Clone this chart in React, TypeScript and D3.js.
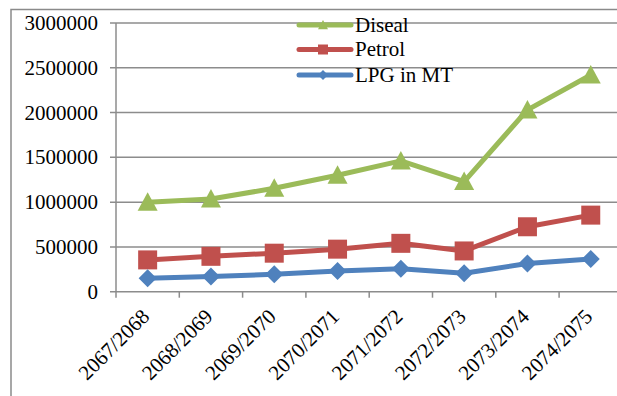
import React from "react";
import * as d3 from "d3";

const categories = [
  "2067/2068",
  "2068/2069",
  "2069/2070",
  "2070/2071",
  "2071/2072",
  "2072/2073",
  "2073/2074",
  "2074/2075",
];
const diseal = [1000000, 1035000, 1155000, 1300000, 1460000, 1230000, 2030000, 2420000];
const petrol = [355000, 395000, 430000, 475000, 540000, 455000, 725000, 855000];
const lpg = [150000, 170000, 195000, 230000, 255000, 205000, 315000, 365000];
const yTicks = [0, 500000, 1000000, 1500000, 2000000, 2500000, 3000000];

const W = 617;
const H = 396;
const plotLeft = 116;
const plotTop = 23;
const plotBottom = 291.7;
const bandWidth = 63.3;
const FONT = '"Liberation Serif", "Times New Roman", "DejaVu Serif", serif';

type Marker = "triangle" | "square" | "diamond";
type Series = { name: string; values: number[]; color: string; marker: Marker };

const series: Series[] = [
  { name: "Diseal", values: diseal, color: "#9BBB59", marker: "triangle" },
  { name: "Petrol", values: petrol, color: "#C0504D", marker: "square" },
  { name: "LPG in MT", values: lpg, color: "#4F81BD", marker: "diamond" },
];

// r = half extent of the marker box
function markerPath(kind: Marker, r: number): string {
  const p = d3.path();
  if (kind === "triangle") {
    p.moveTo(0, -r);
    p.lineTo(r, r * 0.85);
    p.lineTo(-r, r * 0.85);
  } else if (kind === "square") {
    p.rect(-r, -r, 2 * r, 2 * r);
  } else {
    p.moveTo(0, -r);
    p.lineTo(r, 0);
    p.lineTo(0, r);
    p.lineTo(-r, 0);
  }
  p.closePath();
  return p.toString();
}

const textStyle: React.CSSProperties = { fontFamily: FONT };

export default function App() {
  const x = d3
    .scaleBand<string>()
    .domain(categories)
    .range([plotLeft, plotLeft + bandWidth * categories.length]);
  const y = d3.scaleLinear().domain([0, 3000000]).range([plotBottom, plotTop]);
  const cx = (c: string) => (x(c) ?? 0) + x.bandwidth() / 2;

  const line = d3
    .line<[string, number]>()
    .x((d) => cx(d[0]))
    .y((d) => y(d[1]));

  const radii: Record<Marker, number> = { triangle: 10, square: 9.5, diamond: 9 };
  const legendY = [25, 49.5, 75];

  return (
    <div style={{ position: "absolute", left: 0, top: 0 }}>
      <svg width={W} height={H} style={{ display: "block" }}>
        <rect x={0} y={0} width={W} height={H} fill="#fff" />
        {/* outer chart frame */}
        <rect x={11} y={9.5} width={W + 20} height={H + 20} fill="none" stroke="#8a8a8a" strokeWidth={1.5} />

        {/* gridlines and y axis labels */}
        {yTicks.map((t) => (
          <g key={t}>
            <line x1={plotLeft - 6} x2={W + 10} y1={y(t)} y2={y(t)} stroke="#8c8c8c" strokeWidth={1.5} />
            <text x={98} y={y(t)} dy="0.34em" textAnchor="end" fontSize={21} fill="#000" style={textStyle}>
              {t}
            </text>
          </g>
        ))}
        <line x1={plotLeft} x2={plotLeft} y1={plotTop} y2={plotBottom} stroke="#8c8c8c" strokeWidth={1.5} />

        {/* x tick marks and labels */}
        {categories.map((c) => (
          <g key={c}>
            <line
              x1={x(c) ?? 0}
              x2={x(c) ?? 0}
              y1={plotBottom}
              y2={plotBottom + 6}
              stroke="#8c8c8c"
              strokeWidth={1.5}
            />
            <text
              transform={`translate(${cx(c) + 3},${plotBottom + 26}) rotate(-45)`}
              textAnchor="end"
              fontSize={21}
              fill="#000"
              style={textStyle}
            >
              {c}
            </text>
          </g>
        ))}

        {/* series lines and markers */}
        {series.map((s) => {
          const pts = categories.map((c, i) => [c, s.values[i]] as [string, number]);
          return (
            <g key={s.name}>
              <path d={line(pts) || ""} fill="none" stroke={s.color} strokeWidth={5} strokeLinejoin="round" />
              {pts.map((p) => (
                <path
                  key={p[0]}
                  d={markerPath(s.marker, radii[s.marker])}
                  transform={`translate(${cx(p[0])},${y(p[1])})`}
                  fill={s.color}
                />
              ))}
            </g>
          );
        })}

        {/* legend */}
        {series.map((s, i) => (
          <g key={s.name} transform={`translate(0,${legendY[i]})`}>
            <line x1={299} x2={351} y1={0} y2={0} stroke={s.color} strokeWidth={5} strokeLinecap="round" />
            <path d={markerPath(s.marker, 5)} transform="translate(323,0)" fill={s.color} />
            <text x={355} y={0} dy="0.33em" fontSize={21} fill="#000" style={textStyle}>
              {s.name}
            </text>
          </g>
        ))}
      </svg>
    </div>
  );
}
